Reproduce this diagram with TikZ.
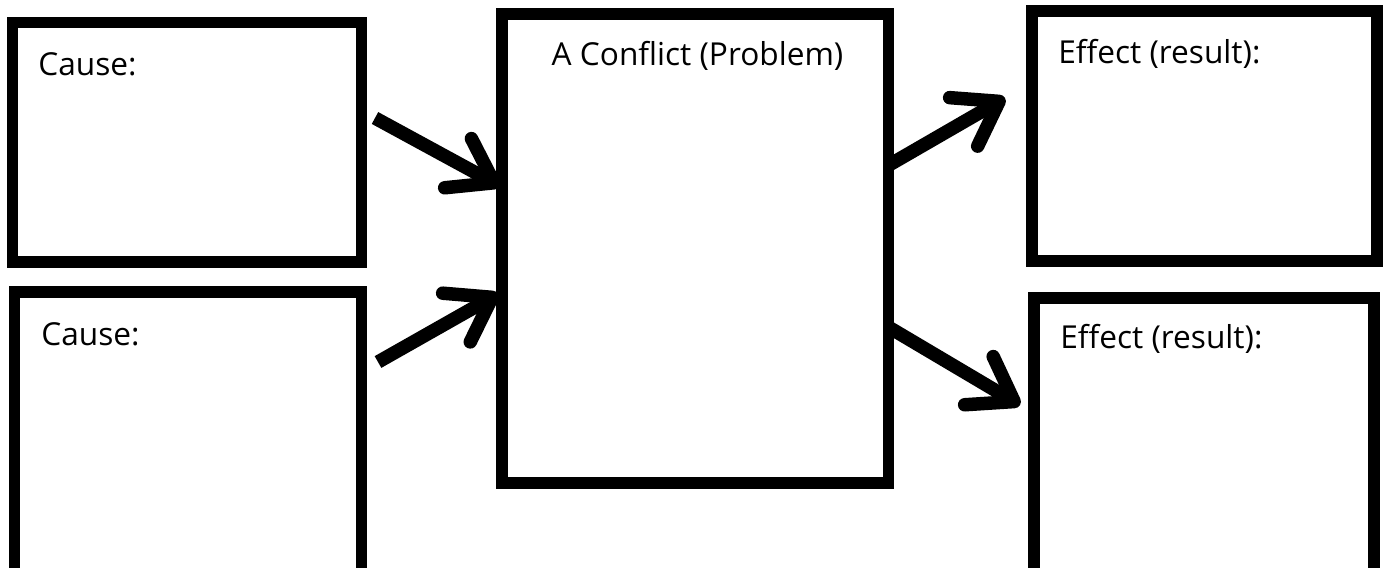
\documentclass[tikz,border=0pt]{standalone}
\usepackage{fontspec}
\setmainfont{Open Sans}
\usetikzlibrary{arrows.meta}
\begin{document}
\begin{tikzpicture}[box/.style={draw,rectangle,line width=0.23cm,inner sep=0},
    txt/.style={font=\fontsize{18}{21}\selectfont,inner sep=0},
    fat/.style={line width=0.27cm,-{Straight Barb[round,length=0.82cm,width=1.12cm]}}]
        \useasboundingbox (0,0) rectangle (27.78,-11.34);
        \clip (0,0) rectangle (27.78,-11.34);
        \node[box,minimum width=6.98cm,minimum height=4.79cm] at (3.74,-2.845) (cause1) {};
        \node[box,minimum width=6.94cm,minimum height=7.16cm] at (3.76,-9.42) (cause2) {};
        \node[box,minimum width=7.73cm,minimum height=9.38cm] at (13.905,-4.97) (conflict) {};
        \node[box,minimum width=6.90cm,minimum height=5.0cm] at (24.09,-2.72) (effect1) {};
        \node[box,minimum width=6.80cm,minimum height=7.04cm] at (24.08,-9.48) (effect2) {};
        \node[txt,anchor=base west] at (0.76,-1.50) (t1) {Cause:};
        \node[txt,anchor=base west] at (0.82,-6.90) (t2) {Cause:};
        \node[txt,anchor=base] at (13.95,-1.30) (t3) {A Conflict (Problem)};
        \node[txt,anchor=base west] at (21.16,-1.26) (t4) {Effect (result):};
        \node[txt,anchor=base west] at (21.20,-6.96) (t5) {Effect (result):};
        \coordinate (in1) at (7.50,-2.36);
        \coordinate (hit1) at (10.00,-3.72);
        \coordinate (in2) at (7.56,-7.24);
        \coordinate (hit2) at (9.96,-5.88);
        \coordinate (out1) at (17.78,-3.30);
        \coordinate (end1) at (20.10,-1.96);
        \coordinate (out2) at (17.80,-6.56);
        \coordinate (end2) at (20.40,-8.10);
        \draw[fat] (in1) -- (hit1);
        \draw[fat] (in2) -- (hit2);
        \draw[fat] (out1) -- (end1);
        \draw[fat] (out2) -- (end2);
\end{tikzpicture}
\end{document}
